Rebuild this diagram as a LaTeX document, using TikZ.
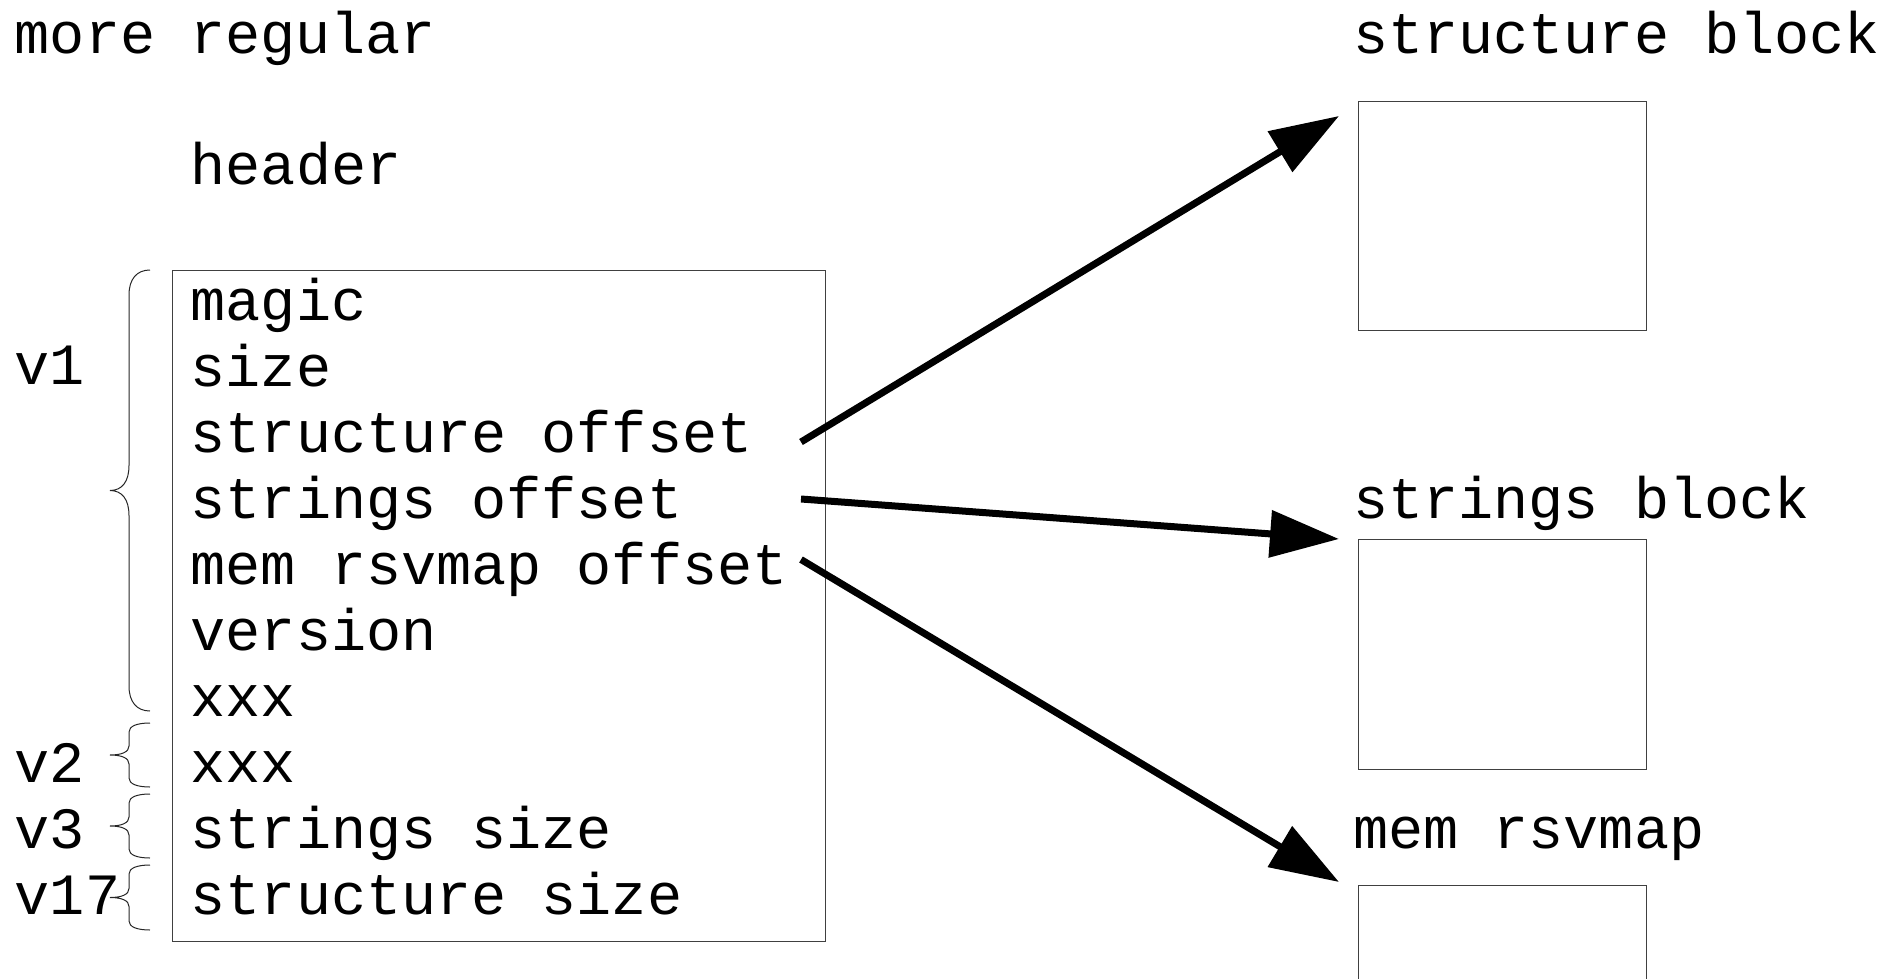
\documentclass[tikz,border=0pt]{standalone}
\usepackage{fontspec}
\setmainfont{Liberation Mono}
\usetikzlibrary{arrows.meta}
\newcommand\mybrace[3]{% #1 top y, #2 bottom y, #3 curve length
  \pgfmathsetmacro\bmid{(#1+#2)/2}%
  \draw[brc] (150,#1) .. controls (137,#1) and (129,{#1+0.35*#3}) .. (129,{#1+#3})
    -- (129,{\bmid-#3}) .. controls (129,{\bmid-0.35*#3}) and (122,\bmid) .. (110,\bmid)
    .. controls (122,\bmid) and (129,{\bmid+0.35*#3}) .. (129,{\bmid+#3})
    -- (129,{#2-#3}) .. controls (129,{#2-0.35*#3}) and (137,#2) .. (150,#2);%
}
\begin{document}
\begin{tikzpicture}[x=1pt,y=-1pt,
  lbl/.style={anchor=base west, inner sep=0pt, font=\fontsize{58.5}{66}\selectfont},
  blk/.style={draw=black!75, line width=1.2pt, inner sep=0pt, anchor=north west},
  ptr/.style={line width=7pt, -{Triangle[length=69pt,width=46pt]}},
  brc/.style={line width=1pt, black!85}]
\useasboundingbox (0,0) rectangle (1903,979);

% titles
\node[lbl] (title) at (14.6,54) {more regular};
\node[lbl] (header) at (190.5,184) {header};
\node[lbl] (tstruct) at (1353,54) {structure block};
\node[lbl] (tstrings) at (1353,518) {strings block};
\node[lbl] (tmem) at (1353,848) {mem rsvmap};

% header box
\node[blk, minimum width=653.5pt, minimum height=670.5pt] (hbox) at (171.5,270) {};
\node[lbl] (r1) at (190.5,320) {magic};
\node[lbl] (r2) at (190.5,386) {size};
\node[lbl] (r3) at (190.5,452) {structure offset};
\node[lbl] (r4) at (190.5,518) {strings offset};
\node[lbl] (r5) at (190.5,584) {mem rsvmap offset};
\node[lbl] (r6) at (190.5,650) {version};
\node[lbl] (r7) at (190.5,716) {xxx};
\node[lbl] (r8) at (190.5,782) {xxx};
\node[lbl] (r9) at (190.5,848) {strings size};
\node[lbl] (r10) at (190.5,914) {structure size};

% version labels and braces
\node[lbl] (v1) at (14.6,384) {v1};
\node[lbl] (v2) at (14.6,782) {v2};
\node[lbl] (v3) at (14.6,848) {v3};
\node[lbl] (v17) at (14.6,914) {v17};
\mybrace{270}{711}{25}
\mybrace{723}{787}{9}
\mybrace{794}{858}{9}
\mybrace{865}{930}{9}

% blocks
\node[blk, minimum width=288pt, minimum height=229.5pt] (sblock) at (1358,100.7) {};
\node[blk, minimum width=288pt, minimum height=229.5pt] (strblock) at (1358,539) {};
\node[blk, minimum width=288pt, minimum height=229.5pt] (memblock) at (1358,885) {};

% arrows
\coordinate (s1) at (801,442);
\coordinate (s2) at (801,499);
\coordinate (s3) at (801,559.5);
\coordinate (t1) at (1339,116);
\coordinate (t2) at (1339,539);
\coordinate (t3) at (1339,882);
\draw[ptr] (s1) -- (t1);
\draw[ptr] (s2) -- (t2);
\draw[ptr] (s3) -- (t3);
\end{tikzpicture}
\end{document}
